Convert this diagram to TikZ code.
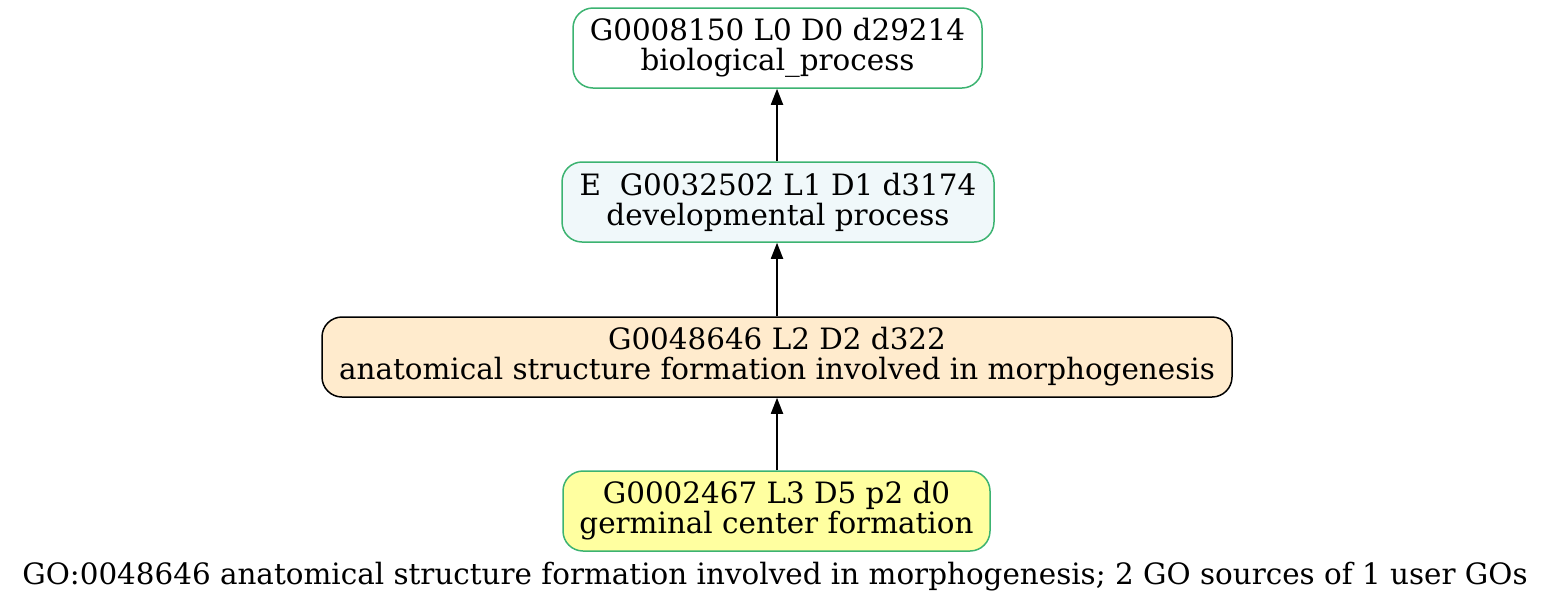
\documentclass[tikz,border=0pt]{standalone}
\usepackage{fontspec}
\setmainfont{DejaVu Serif}
\usetikzlibrary{arrows.meta}
\definecolor{gogreen}{HTML}{3CB371}
\definecolor{devfill}{HTML}{F0F8FA}
\definecolor{almond}{HTML}{FFEBCD}
\definecolor{lightyel}{HTML}{FFFFA0}
\tikzset{
  gonode/.style={draw=gogreen, line width=1.5pt, rounded corners=20pt, align=center,
    font=\fontsize{29.4}{30}\selectfont, inner sep=0pt, minimum height=80pt},
  edge/.style={line width=1.8pt, -{Triangle[length=16pt,width=12pt]}}
}
\begin{document}
\begin{tikzpicture}[x=1pt,y=1pt]
\useasboundingbox (0,0) rectangle (1556,-606);
\node[gonode, fill=white, minimum width=409pt] (n1) at (777.5,-48) {G0008150 L0 D0 d29214\\biological\_process};
\node[gonode, fill=devfill, minimum width=432pt] (n2) at (778,-202) {E\ \ G0032502 L1 D1 d3174\\developmental process};
\node[gonode, draw=black, fill=almond, minimum width=910pt] (n3) at (777,-357) {G0048646 L2 D2 d322\\anatomical structure formation involved in morphogenesis};
\node[gonode, fill=lightyel, minimum width=427pt] (n4) at (776.5,-511) {G0002467 L3 D5 p2 d0\\germinal center formation};
\node[font=\fontsize{29.4}{30}\selectfont, inner sep=0pt] (cap) at (775,-577) {GO:0048646 anatomical structure formation involved in morphogenesis; 2 GO sources of 1 user GOs};
\draw[edge] (n3.north |- n2.north) -- (n3.north |- n1.south);
\draw[edge] (n3.north) -- (n3.north |- n2.south);
\draw[edge] (n3.north |- n4.north) -- (n3.south);
\end{tikzpicture}
\end{document}
